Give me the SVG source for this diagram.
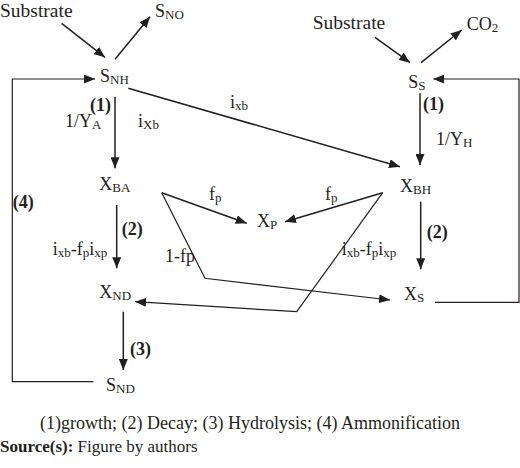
<svg xmlns="http://www.w3.org/2000/svg" width="520" height="468" viewBox="0 0 520 468">
<style>
text{font-family:"Liberation Serif","Times New Roman",serif;font-size:18px;fill:#231f20}
.sub{font-size:13px}
.b{font-weight:bold}
.big{font-size:19.5px}
.c{stroke:#231f20;stroke-width:1.5;fill:none}
.t{stroke:#231f20;stroke-width:1.2;fill:none}
</style>
<defs>
<marker id="ah" markerUnits="userSpaceOnUse" markerWidth="12" markerHeight="9" refX="11" refY="4.5" orient="auto">
<path d="M0,0 L11,4.5 L0,9 z" fill="#231f20"/>
</marker>
</defs>
<rect width="520" height="468" fill="#fff"/>
<g id="connectors">
<line class="c" x1="61.7" y1="23.3" x2="105" y2="57.3" marker-end="url(#ah)"/>
<line class="c" x1="115" y1="59.3" x2="150" y2="16.7" marker-end="url(#ah)"/>
<line class="c" x1="375" y1="37.3" x2="410" y2="62.7" marker-end="url(#ah)"/>
<line class="c" x1="421" y1="62.7" x2="461.7" y2="30" marker-end="url(#ah)"/>
<line class="c" x1="115" y1="96.7" x2="115" y2="168.3" marker-end="url(#ah)"/>
<line class="c" x1="128.3" y1="88.3" x2="400" y2="166.7" marker-end="url(#ah)"/>
<line class="c" x1="420" y1="93.3" x2="420" y2="165" marker-end="url(#ah)"/>
<line class="c" x1="116.7" y1="205" x2="116.7" y2="268.3" marker-end="url(#ah)"/>
<line class="c" x1="420.7" y1="201.7" x2="420.7" y2="269.3" marker-end="url(#ah)"/>
<line class="c" x1="123.3" y1="311.7" x2="123.3" y2="370" marker-end="url(#ah)"/>
<polyline class="t" points="93.3,381.7 12.3,381.7 12.3,79 95,79" marker-end="url(#ah)"/>
<polyline class="t" points="435,302.3 519,302.3 519,79 433.3,79" marker-end="url(#ah)"/>
<line class="c" x1="161.7" y1="192.7" x2="246.7" y2="223.3" marker-end="url(#ah)"/>
<polyline class="t" points="161.7,192.7 205,278.3 390,300" marker-end="url(#ah)"/>
<line class="c" x1="382.7" y1="192.7" x2="285" y2="221.7" marker-end="url(#ah)"/>
<polyline class="t" points="382.7,192.7 296.7,311.7 135,301.7" marker-end="url(#ah)"/>
</g>
<g id="substrate-left"><text class="big" x="0" y="17">Substrate</text></g>
<g id="SNO"><text x="155" y="17">S<tspan class="sub" dy="1.5">NO</tspan></text></g>
<g id="SNH"><text x="100" y="82">S<tspan class="sub" dy="1.5">NH</tspan></text></g>
<g id="XBA"><text x="99.3" y="190">X<tspan class="sub" dy="1.5">BA</tspan></text></g>
<g id="XND"><text x="99.3" y="298">X<tspan class="sub" dy="1.5">ND</tspan></text></g>
<g id="SND"><text x="106" y="391">S<tspan class="sub" dy="1.5">ND</tspan></text></g>
<g id="substrate-right"><text class="big" x="312.7" y="29">Substrate</text></g>
<g id="CO2"><text x="466.7" y="30">CO<tspan class="sub" dy="1.5">2</tspan></text></g>
<g id="SS"><text x="408.3" y="88">S<tspan class="sub" dy="1.5">S</tspan></text></g>
<g id="XBH"><text x="400" y="192">X<tspan class="sub" dy="1.5">BH</tspan></text></g>
<g id="XS"><text x="404" y="300">X<tspan class="sub" dy="1.5">S</tspan></text></g>
<g id="XP"><text x="257" y="227">X<tspan class="sub" dy="1.5">P</tspan></text></g>
<g id="labels">
<text class="b" x="90" y="111">(1)</text>
<text x="65" y="127">1/Y<tspan class="sub" dy="1.5">A</tspan></text>
<text x="138" y="127">i<tspan class="sub" dy="1.5">Xb</tspan></text>
<text x="230" y="108">i<tspan class="sub" dy="1.5">xb</tspan></text>
<text class="b" x="423" y="110">(1)</text>
<text x="436" y="145">1/Y<tspan class="sub" dy="1.5">H</tspan></text>
<text class="b" x="12.7" y="208">(4)</text>
<text class="b" x="121.7" y="235">(2)</text>
<text x="52.7" y="255">i<tspan class="sub" dy="1.5">xb</tspan><tspan dy="-1.5">-f</tspan><tspan class="sub" dy="1.5">p</tspan><tspan dy="-1.5">i</tspan><tspan class="sub" dy="1.5">xp</tspan></text>
<text x="165" y="262">1-fp</text>
<text x="209" y="200">f<tspan class="sub" dy="1.5">p</tspan></text>
<text x="325" y="200">f<tspan class="sub" dy="1.5">p</tspan></text>
<text class="b" x="426.7" y="238">(2)</text>
<text x="341.7" y="255">i<tspan class="sub" dy="1.5">xb</tspan><tspan dy="-1.5">-f</tspan><tspan class="sub" dy="1.5">p</tspan><tspan dy="-1.5">i</tspan><tspan class="sub" dy="1.5">xp</tspan></text>
<text class="b" x="130" y="355">(3)</text>
</g>
<g id="caption">
<text x="40" y="429">(1)growth; (2) Decay; (3) Hydrolysis; (4) Ammonification</text>
<text x="0" y="452" style="font-size:17px"><tspan class="b">Source(s):</tspan> Figure by authors</text>
</g>
</svg>
